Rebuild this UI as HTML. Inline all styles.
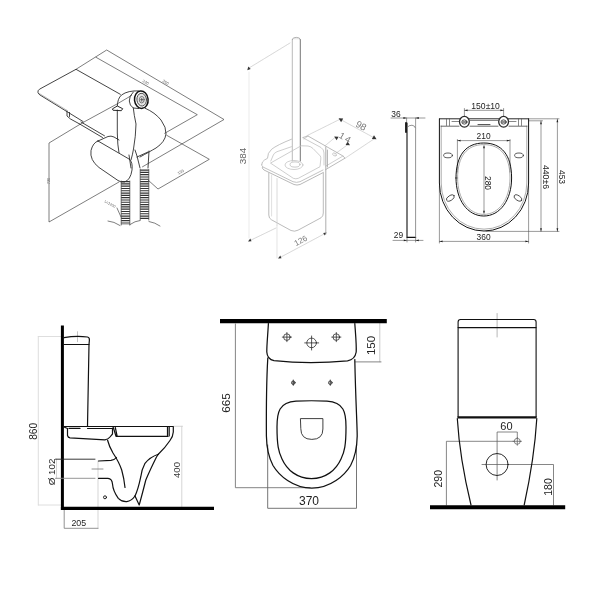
<!DOCTYPE html>
<html><head><meta charset="utf-8">
<style>
html,body{margin:0;padding:0;background:#fff;}
body{width:600px;height:600px;overflow:hidden;}
svg{display:block;will-change:transform;}
text{font-family:"Liberation Sans",sans-serif;}
</style></head><body>
<svg width="600" height="600" viewBox="0 0 600 600">
<rect width="600" height="600" fill="#fff"/>

<!-- ================= PANEL 4 : side view ================= -->
<g id="p4" fill="none" stroke="#111" stroke-width="1.2" stroke-linecap="round" stroke-linejoin="round">
  <!-- dims (light) -->
  <g stroke="#d0d0d0" stroke-width="0.9">
    <path d="M38.3 336.5V505M38.3 336.5H62M38.3 505H62" stroke="#dadada"/>
    <path d="M56.500 459.2V478.3"/>
    <path d="M98 461V528.3"/>
    <path d="M173.5 426.3H182.500M181.800 426.3V507"/>
  </g>
  <g stroke="#777" stroke-width="0.8">
    <path d="M64.2 510V528.3H98"/>
    <path d="M92 469H103"/>
    <path d="M77.5 331.7V341.7" stroke="#b4b4b4"/>
  </g>
  <!-- wall + floor -->
  <path d="M62.4 325.5V510" stroke="#000" stroke-width="3" stroke-linecap="butt"/><path d="M60.900 508.400H214" stroke="#000" stroke-width="3.4" stroke-linecap="butt"/>
  <!-- tank -->
  <path d="M64 337.6Q76 335.6 87.5 337Q89.6 337.4 89.4 340L89 344.5L87.5 426"/>
  <path d="M64 344.5H89"/>
  <!-- bowl top / seat -->
  <path d="M64 426.5H173.3V432Q173 436.5 170 440.5Q165 448 158.3 454.2"/>
  <path d="M87.5 428.5H113M69 428.4H80" />
  <path d="M116 436.3H168M113.3 427.5L116 436.3M115.3 427.5L117.2 436.3M167.5 427V436M169.2 427V436"/>
  <path d="M158.3 454.2Q150 457 145 463.3Q141.5 470 140.8 476.7Q138 490 135 496"/>
  <path d="M158.3 454.2L156.5 457Q150 470 145.8 480Q142 495 139.2 505L135 496"/>
  <path d="M98.5 478.3H108Q112 478.5 112.5 484Q113 491 118.3 498.3Q122 502 126.7 501.7Q131.5 501 135 496"/>
  <path d="M107.5 440Q109 446 113 453Q119 462 121.7 470Q124 478 125 487.5"/>
  <path d="M64 427L67.5 428.5V435.5Q68 437.5 70 437.8L105 439.8Q108 439.5 110 437L112.5 434V428"/>
  <path d="M55.500 459.2H95" stroke="#222" stroke-width="0.9"/><path d="M55.500 478.300H95" stroke="#8a8a8a" stroke-width="0.9"/><path d="M98.5 461L111 460.3Q114.5 460 116.5 457.5"/>
  <circle cx="105" cy="497.3" r="1.5" stroke-width="0.9"/>
</g>
<g fill="#222" font-size="9.6" text-anchor="middle">
  <text transform="translate(36.6 431.3) rotate(-90)" font-size="10.2">860</text>
  <text transform="translate(54.6 472) rotate(-90)" font-size="9.8">Ø 102</text>
  <text transform="translate(179.600 470) rotate(-90)" fill="#3a3a3a" font-size="9.600">400</text>
  <text x="78.8" y="526" font-size="8.8">205</text>
</g>

<!-- ================= PANEL 5 : top view ================= -->
<g id="p5" fill="none" stroke="#111" stroke-width="1.1" stroke-linecap="round" stroke-linejoin="round">
  <g stroke="#777" stroke-width="0.9">
    <path d="M235.400 324V487.700H310"/>
    <path d="M267.700 445V508.300H356.500V445" stroke="#666"/>
  </g>
  <g stroke="#c4c4c4" stroke-width="0.9">
    <path d="M379.800 323V361.8"/><path d="M355.500 361.900H381" stroke="#777"/>
  </g>
  <path d="M220 321.1H386.800" stroke="#000" stroke-width="4.2" stroke-linecap="butt"/>
  <path d="M268.400 323.5C267.800 335 266.700 345 266.800 352Q267.200 359.300 274 360.700Q310 364.500 347.500 360.800Q355 359.500 356.200 352C356.600 345 355.600 335 354.800 323.5" stroke-width="1.25"/>
  <path d="M267.8 358C266.5 380 266.300 420 266.400 436C266.600 448 269 458 273 465.500C279 475.500 293 488.200 311.800 488.200C330.600 488.200 344.600 475.500 350.600 465.500C354.600 458 357 448 357.200 436C357.200 425 355.600 400 354.800 359.500" stroke-width="1.25"/>
  <path d="M277 427C277 412 279 402.5 296 401.2Q311.5 400.3 327 401.2C344 402.5 346 412 346 427C346 445 344.500 452 341 459C336 470 326 478.500 311.5 478.500C297 478.500 287 470 282 459C278.500 452 277 445 277 427Z" stroke-width="1.25"/>
  <path d="M300.800 418.600H322.900V429Q322.900 439.400 311.800 439.400Q300.800 439.400 300.800 429Z" stroke="#2a2a2a" stroke-width="0.9"/>
  <g stroke="#222" stroke-width="0.75">
    <circle cx="286.9" cy="337.1" r="3.3"/><path d="M282.3 337.1H291.500M286.900 332.500V341.700"/>
    <circle cx="336.3" cy="337.1" r="3.3"/><path d="M331.700 337.100H340.900M336.300 332.500V341.700"/>
    <circle cx="311.6" cy="342.9" r="4.8"/><path d="M304.700 342.900H318.700M311.600 336V350"/>
    <circle cx="293.3" cy="382.7" r="1.8" fill="#aaa"/><path d="M293.300 380V385.400"/>
    <circle cx="330.3" cy="382.7" r="1.8" fill="#ccc"/><path d="M330.300 380V385.400"/>
  </g>
</g>
<g fill="#222" font-size="12" text-anchor="middle">
  <text transform="translate(229.500 403) rotate(-90)" font-size="11.600">665</text>
  <text transform="translate(374.600 345.500) rotate(-90)" font-size="11.5">150</text>
  <text x="309" y="505" font-size="12">370</text>
</g>

<!-- ================= PANEL 6 : back view ================= -->
<g id="p6" fill="none" stroke="#111" stroke-width="1.1" stroke-linecap="round" stroke-linejoin="round">
  <g stroke="#5e5e5e" stroke-width="0.75">
    <path d="M497.1 480V432H517.300V438.300"/>
    <path d="M514.300 441.3H446.4V505"/>
    <path d="M482 464.5H553.5V505"/>
    <path d="M497.1 313.5V337" stroke="#999" stroke-width="0.7"/>
    <circle cx="517.3" cy="441.3" r="3"/>
    <path d="M513 441.300H521.500M517.300 437.500V445.300"/>
  </g>
  <path d="M430 507.2H565.200" stroke="#000" stroke-width="3.9" stroke-linecap="butt"/>
  <path d="M458.1 417V322Q458.1 319.5 460.5 319.5H533.7Q536.1 319.5 536.1 322V417"/>
  <path d="M458.1 327.600H536.1"/>
  <path d="M457.500 417.400H536.600" stroke-width="2.4" stroke-linecap="butt"/>
  <path d="M457.300 418.500C458.600 440 462.500 470 471 505M536.800 418.500C535.500 440 531.800 470 524.200 505" stroke-width="1.2"/>
  <circle cx="497.1" cy="464.5" r="11" stroke-width="0.9"/>
</g>
<g fill="#222" font-size="10.5" text-anchor="middle">
  <text transform="translate(442 478.700) rotate(-90)">290</text>
  <text transform="translate(552 487) rotate(-90)">180</text>
  <text x="506.4" y="430" font-size="11">60</text>
</g>

<!-- ================= PANEL 3 : seat ================= -->
<g id="p3" fill="none" stroke="#222" stroke-width="0.9" stroke-linecap="round" stroke-linejoin="round">
  <!-- dimension lines -->
  <g stroke="#555" stroke-width="0.6">
    <path d="M391 118H425M406.6 118V124M415.6 118V128"/>
    <path d="M393 240.4H423M407 237.4V242M415.6 237.4V242"/>
    <path d="M464.4 110.3H503.6M464.4 108.500V117M503.6 108.500V117"/>
    <path d="M457.4 140.6H510M457.4 139.5V172M510 139.5V172"/>
    <path d="M484 146V213"/>
    <path d="M439.4 186V243M528.6 186V243M439.4 241.4H528.6"/>
    <path d="M529 118.8H559M529 120.8H542.5M541 121V231.4M557.4 119V231.4M486 231.4H559"/>
  </g>
  <g fill="#222" stroke="none">
    <path d="M406.6 118l-3.2-.9v1.8zM415.6 118l3.2-.9v1.8z"/>
    <path d="M407 240.4l-3.2-.9v1.8zM415.6 240.4l3.2-.9v1.8z"/>
    <path d="M464.4 110.3l3.2-.9v1.8zM503.6 110.3l-3.2-.9v1.8z"/>
    <path d="M457.4 140.6l3.2-.9v1.8zM510 140.6l-3.2-.9v1.8z"/>
    <path d="M484 145l-.9 3.2h1.8zM484 214l-.9-3.2h1.8z"/>
    <path d="M439.4 241.4l3.2-.9v1.8zM528.6 241.4l-3.2-.9v1.8z"/>
    <path d="M541 121l-.9 3.2h1.8zM541 231.4l-.9-3.2h1.8z"/>
    <path d="M557.4 119l-.9 3.2h1.8zM557.4 231.4l-.9-3.2h1.8z"/>
  </g>
  <!-- side profile -->
  <path d="M407 123V237.4H415.6" stroke="#111" stroke-width="1.1"/>
  <path d="M406 123V132" stroke="#111" stroke-width="1.8"/>
  <path d="M407 127.5Q409 125 412 125.2Q415 125.6 415.6 128.5V237.4" stroke="#777" stroke-width="0.8"/>
  <!-- seat outline -->
  <path d="M439.4 119V183A44.6 48 0 0 0 528.6 183V119" stroke="#111" stroke-width="1"/>
  <path d="M441.2 126V183A42.8 46.2 0 0 0 526.8 183V126" stroke="#888" stroke-width="0.7"/>
  <path d="M439.4 118.8H528.6" stroke="#111"/>
  <path d="M441 126.2H459M470 126.2H498M509 126.2H527" stroke="#444" stroke-width="0.8"/>
  <path d="M446.5 119V125.5M449.5 119V125.5M452 121.5H459M521.5 119V125.5M518.5 119V125.5M509 121.5H516M470 120.5H498" stroke="#555" stroke-width="0.7"/>
  <path d="M478 124.6H490" stroke="#333" stroke-width="0.9"/>
  <!-- inner opening -->
  <path d="M456 178C456 155 466 143 483.8 143C501.6 143 511.6 155 511.6 178C511.6 200 500 216 483.8 216C467.600 216 456 200 456 178Z" stroke="#111" stroke-width="1"/>
  <path d="M457.6 178C457.6 156 467 144.6 483.8 144.6C500.6 144.6 510 156 510 178C510 199 499 214.4 483.8 214.4C468.6 214.4 457.6 199 457.6 178Z" stroke="#888" stroke-width="0.7"/>
  <!-- hinges -->
  <ellipse cx="464.4" cy="121.8" rx="4.9" ry="5.400" stroke="#2a2a2a" stroke-width="1.3" fill="#fff"/>
  <ellipse cx="503.6" cy="121.8" rx="4.9" ry="5.400" stroke="#2a2a2a" stroke-width="1.3" fill="#fff"/>
  <ellipse cx="464.4" cy="122" rx="2.6" ry="2.1" stroke="#222" stroke-width="0.8"/>
  <ellipse cx="503.6" cy="122" rx="2.6" ry="2.1" stroke="#222" stroke-width="0.8"/>
  <path d="M463 122H466M502.2 122H505.2" stroke="#222" stroke-width="1.2"/>
  <!-- bumpers -->
  <ellipse cx="448" cy="155.4" rx="4.4" ry="2.4" stroke="#333" stroke-width="0.8"/>
  <ellipse cx="519" cy="155.4" rx="4.4" ry="2.4" stroke="#333" stroke-width="0.8"/>
  <ellipse cx="450.4" cy="198" rx="4.4" ry="2.4" transform="rotate(-32 450.4 198)" stroke="#333" stroke-width="0.8"/>
  <ellipse cx="518" cy="198" rx="4.4" ry="2.4" transform="rotate(32 518 198)" stroke="#333" stroke-width="0.8"/>
</g>
<g fill="#222" font-size="8.4" text-anchor="middle">
  <text x="396" y="116.800">36</text>
  <text x="398.4" y="238">29</text>
  <text x="485.6" y="109.1" textLength="28.6" lengthAdjust="spacingAndGlyphs">150±10</text>
  <text x="483.6" y="138.6">210</text>
  <text x="483.6" y="240.4">360</text>
  <text transform="translate(485.3 183) rotate(90)">280</text>
  <text transform="translate(542.6 177) rotate(90)" textLength="24" lengthAdjust="spacingAndGlyphs">440±6</text>
  <text transform="translate(558.8 177) rotate(90)">453</text>
</g>

<!-- ================= PANEL 1 : hygienic shower ================= -->
<g id="p1" fill="none" stroke="#222" stroke-width="0.85" stroke-linecap="round" stroke-linejoin="round">
  <!-- thin dimension lines -->
  <g stroke="#383838" stroke-width="0.65">
    <path d="M76 69.3L106.7 50L224 119.5L142.5 166.8"/>
    <path d="M96 57.3L197.3 114.7L164.7 133.3"/>
    <path d="M166.7 135.3L209.3 159.3L158 189L148 180"/>
    <path d="M83 122.5L49 143V222L119 182"/>
    <path d="M83 122.5L117 104"/>
    <path d="M117 208L121 217"/>
    <path d="M108 221Q114 221.5 120 225.5M130 224.5Q135 221 140 220.5M149 221.5Q155 222.5 160 226"/>
  </g>
  <!-- shelf -->
  <path d="M120.300 94.300L76 69.3L39.5 89.2Q37.4 90.6 38 92.6Q38.4 94 40 95L83 121.5"/>
  <path d="M39 93.3L67 110.4" stroke="#777" stroke-width="0.5"/>
  <path d="M67 111V116L70.500 119L80 124.200M81 122L104.5 135.800M80 124.200L102.500 137.5M69.500 112.5V116.5" stroke="#222" stroke-width="0.85"/>
  <!-- shower head -->
  <path d="M139 90.900Q128 90.300 121.5 95Q117.5 98.5 117.3 106" fill="#fff"/><path d="M117.500 103.700L131.500 95.500" stroke="#383838" stroke-width="0.65"/>
  <path d="M133.3 92Q129 96 129.3 101Q129.500 105.500 133.300 108L138.700 108.500"/>
  <ellipse cx="141.3" cy="99.7" rx="6.8" ry="8.700" stroke="#111" stroke-width="1.5" fill="#fff" transform="rotate(-6 141.3 99.7)"/>
  <ellipse cx="141.7" cy="99.7" rx="4.800" ry="6.400" stroke="#444" stroke-width="0.9" fill="#e4e4e4" transform="rotate(-6 141.3 99.7)"/>
  <ellipse cx="141.800" cy="99.7" rx="2.400" ry="3.300" stroke="#555" stroke-width="0.8" fill="#f2f2f2"/><path d="M140.600 99.700H143M141.800 98.100V101.300" stroke="#444" stroke-width="0.9"/>
  <path d="M112.700 108.700L117.300 106L122.700 108.700L121.300 110.700L113.500 110.300Z" stroke="#111" stroke-width="0.9" fill="#fff"/>
  <!-- handle -->
  <path d="M117.3 110V133Q117.5 145 119 153"/>
  <path d="M133.300 108Q134 115 136 124Q135.800 136 133.500 149Q132.500 155 131 160"/>
  <!-- holder right curve -->
  <path d="M145.300 108.300Q155 112.500 161 120Q166.500 127.500 166 134Q165 142 156 148Q150 151.500 140 157"/>
  <!-- stadium body -->
  <path d="M98 141L129 159Q133 162 132 170Q130.500 180 124.500 182Q121 182.500 118 180.500L99 167.500Q89.500 160 91 150.500Q93 142.500 98 141Z" fill="#fff"/>
  <path d="M98 141L108 136.500Q111 135.500 114 137L119 140"/>
  <path d="M129 155L131 168M135 150L137 156L140 168M137 157L148 152M149 151L148 168"/>
  <!-- hoses -->
  <path d="M125.5 181V225" stroke="#333" stroke-width="8.6" stroke-dasharray="1.15 1.15" stroke-linecap="butt"/>
  <path d="M144.5 169.500V220" stroke="#333" stroke-width="8.6" stroke-dasharray="1.15 1.15" stroke-linecap="butt"/>
  <path d="M121.200 181V225M129.800 181V225M140.200 169.500V220M148.800 169.500V220" stroke="#333" stroke-width="0.7"/>
</g>
<g fill="#666" font-size="4" text-anchor="middle">
  <text transform="translate(145 83.500) rotate(30)">230</text>
  <text transform="translate(165 83.500) rotate(30)">350</text>
  <text transform="translate(49.500 181) rotate(-90)">720</text>
  <text transform="translate(181.5 173) rotate(-30)">155</text>
  <text transform="translate(109.500 205) rotate(30)" font-size="3.6">Ln1200</text>
</g>

<!-- ================= PANEL 2 : brush holder ================= -->
<g id="p2" fill="none" stroke="#b4b4b4" stroke-width="0.8" stroke-linecap="round" stroke-linejoin="round">
  <!-- dimension lines (faint, dotted) -->
  <g stroke="#c8c8c8" stroke-width="0.7">
    <path d="M290 43L249 68" stroke-dasharray="1 0.6"/>
    <path d="M249 72V238" stroke="#e2e2e2"/>
    <path d="M276 228L249.500 240.800" stroke-dasharray="1 0.6"/>
    <path d="M325 233.500L279.500 257.800" stroke-dasharray="1 0.6"/>
    <path d="M277 226V258" stroke="#d8d8d8"/>
    <path d="M340 119.200L375 138.300" stroke-dasharray="1 0.6"/>
    <path d="M340 119.200L306.700 135.800M375 138.300L345 158.300" stroke-dasharray="1 0.6"/>
    <path d="M335 137.500L325 145.800M348.300 144.200L335 154" stroke-dasharray="1 0.6"/>
  </g>
  <!-- arrowheads -->
  <g fill="#333" stroke="none">
    <path d="M247.300 70.200l1-3.600 2.400 2.400z"/>
    <path d="M248 241.600l2.300-3 1.200 2.600z"/>
    <path d="M278 258.600l2.300-3 1.200 2.600z"/>
    <path d="M326.600 232.600l-3.400.400 1.600 2.600z"/>
    <path d="M338.600 118.300l4.600.300-2.100 3.600z"/>
    <path d="M376.500 139.200l-4.600-.300 2.100-3.600z"/>
    <path d="M334.200 136.500l4.400.300-2 3.500z"/>
    <path d="M350 145.300l-4.400-.300 2-3.500z"/>
  </g>
  <!-- handle -->
  <path d="M292.300 39.500V161" stroke="#a8a8a8"/>
  <path d="M300.300 39.500V161" stroke="#666" stroke-width="0.9"/>
  <path d="M292.300 39.500Q292.300 37.400 296.300 37.400Q300.300 37.400 300.300 39.500" stroke="#999"/>
  <path d="M293.500 38.800H298.500" stroke="#ccc" stroke-width="0.6"/>
  <!-- brush collar rings -->
  <ellipse cx="294" cy="165" rx="9" ry="4.500" stroke="#c4c4c4"/>
  <ellipse cx="295" cy="164.500" rx="5" ry="2.600" stroke="#bbb"/>
  <!-- mount plate -->
  <path d="M303 137.500L308 136L343 156L345 158.200L325.800 169.500" stroke="#aaa"/>
  <path d="M308 136L304 139M343 156L326 166" stroke="#c4c4c4"/>
  <ellipse cx="334.500" cy="154.500" rx="2" ry="1.300" transform="rotate(30 334.5 154.5)" stroke="#b4b4b4" stroke-width="0.6"/>
  <path d="M325.800 147V234M327.400 150V167" stroke="#999"/>
  <!-- rim -->
  <path d="M261.7 164.3Q262 161.500 264.500 160L267.5 158.300Q267.300 153 271.700 149.200Q277 145 291.500 139.200"/>
  <path d="M261.700 164.500Q261.500 166 263 167L293 181.700Q296.500 183 300 181.700L323 170"/>
  <path d="M262.300 167.500Q262.300 169 264 170L294 184.500Q297 185.600 300 184.500L323.300 172.500" stroke="#a6a6a6"/>
  <path d="M270.8 161L273.3 155Q274 153 277 151.700L291.500 146.700M301.500 145.800L308 146Q311 146.500 313 148.500L320.300 156Q321 157 320.800 159L320 166.700L298.3 178.300Q295.800 179.300 293.3 178.300L270.800 163.300Z" stroke="#c2c2c2"/>
  <path d="M303 137.800L321 147.500Q324 149.500 324 153V165" stroke="#c0c0c0"/>
  <!-- body -->
  <path d="M268.800 173V215Q268.800 218.500 271.500 219.800L291 230.500Q294.500 232 298 230.200L321 217.800Q323.300 216.300 323.300 213V173" stroke="#aaa"/>
  <path d="M277 178.500V225.500" stroke="#d0d0d0"/>
  <path d="M271.600 175V216" stroke="#d8d8d8"/>
</g>
<g fill="#777" font-size="9" text-anchor="middle">
  <text transform="translate(246.400 156) rotate(-90)" font-size="8.8" textLength="16.5" lengthAdjust="spacingAndGlyphs" fill="#666">384</text>
  <text transform="translate(302 243) rotate(-28)" font-size="8">126</text>
  <text transform="translate(359.600 128.500) rotate(29)" font-size="9.5">98</text>
  <text transform="translate(343.400 140.300) rotate(30)" font-size="9" textLength="12" lengthAdjust="spacing">14</text>
</g>

</svg>
</body></html>
